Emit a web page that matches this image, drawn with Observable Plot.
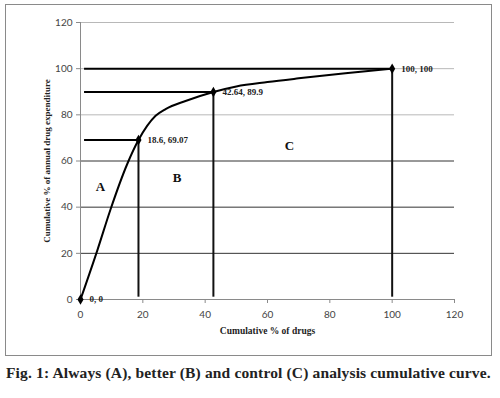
<!DOCTYPE html>
<html>
<head>
<meta charset="utf-8">
<script src="https://cdn.jsdelivr.net/npm/d3@7"></script>
<script src="https://cdn.jsdelivr.net/npm/@observablehq/plot@0.6"></script>
<style>
  html, body { margin: 0; padding: 0; background: #fff; }
  #frame { position: absolute; left: 5px; top: 4px; width: 485px; height: 350px; border: 1px solid #8a8a8a; }
  #frame svg { display: block; }
  #caption { position: absolute; left: 6px; top: 364px; font-family: "Liberation Serif", serif; font-weight: bold; font-size: 15.5px; letter-spacing: 0.15px; color: #222; white-space: nowrap; }
</style>
</head>
<body>
<div id="frame"></div>
<div id="caption">Fig. 1: Always (A), better (B) and control (C) analysis cumulative curve.</div>
<script>
const xTicks = [0, 20, 40, 60, 80, 100, 120];
const yTicks = [0, 20, 40, 60, 80, 100, 120];
const lightGrid = [80, 100, 120];
const darkGrid = [20, 40, 60];

// cumulative curve
const curveX = [0, 5.4, 9.6, 15, 18.6, 24.1, 27.3, 33.7, 42.64, 50, 60, 70, 85, 100];
const curveY = [0, 21.3, 38.9, 58.7, 69.07, 79.6, 82.5, 86, 89.9, 92.3, 94.2, 95.8, 98.0, 100];

// key (cut-off) points
const keyX = [0, 18.6, 42.64, 100];
const keyY = [0, 69.07, 89.9, 100];
const keyLabels = ["0, 0", "18.6, 69.07", "42.64, 89.9", "100, 100"];

// zone letters
const zoneNames = ["A", "B", "C"];
const zoneX = [6.4, 31, 67];
const zoneY = [49, 52.6, 66.6];

const dropStart = 1.3;
const dropEnd = 1;

const curve = curveX.map((x, i) => ({x, y: curveY[i]}));
const keys = keyX.map((x, i) => ({x, y: keyY[i], label: keyLabels[i]}));
const cut = keys.slice(1);
const zones = zoneNames.map((n, i) => ({n, x: zoneX[i], y: zoneY[i]}));

const serif = "'Liberation Serif', 'Times New Roman', serif";
const sans = "Lato, 'Liberation Sans', sans-serif";

const chart = Plot.plot({
  width: 485,
  height: 350,
  marginLeft: 74,
  marginRight: 37,
  marginTop: 17,
  marginBottom: 56,
  x: {domain: [0, 120]},
  y: {domain: [0, 120]},
  style: {fontFamily: sans, background: "#fff"},
  marks: [
    Plot.ruleY(lightGrid, {stroke: "#b8b8b8", strokeWidth: 1}),
    Plot.ruleY(darkGrid, {stroke: "#333", strokeWidth: 1}),
    Plot.ruleY([0], {stroke: "#8a8a8a"}),
    Plot.ruleX([0], {stroke: "#8a8a8a"}),
    Plot.axisX({ticks: xTicks, tickSize: 4, tickPadding: 7, stroke: "#8a8a8a", fill: "#444", fontSize: 10, label: null}),
    Plot.axisY({ticks: yTicks, tickSize: 4, tickPadding: 4, stroke: "#8a8a8a", fill: "#444", fontSize: 10, label: null}),
    Plot.ruleY(cut, {y: "y", x1: dropStart, x2: "x", stroke: "#000", strokeWidth: 2}),
    Plot.ruleX(cut, {x: "x", y1: "y", y2: dropEnd, stroke: "#111", strokeWidth: 2}),
    Plot.line(curve, {x: "x", y: "y", curve: "monotone-x", stroke: "#000", strokeWidth: 2}),
    Plot.dot(keys, {x: "x", y: "y", symbol: "diamond", r: 3.2, fill: "#000"}),
    Plot.text(keys, {x: "x", y: "y", text: "label", dx: 9, textAnchor: "start", fontFamily: serif, fontWeight: "bold", fontSize: 9, fill: "#222"}),
    Plot.text(zones, {x: "x", y: "y", text: "n", fontFamily: serif, fontWeight: "bold", fontSize: 13, fill: "#111"}),
    Plot.text(["Cumulative % of annual drug expenditure"], {frameAnchor: "left", textAnchor: "middle", rotate: -90, dx: -33, fontFamily: serif, fontWeight: "bold", fontSize: 9, fill: "#222"}),
    Plot.text(["Cumulative % of drugs"], {frameAnchor: "bottom", textAnchor: "middle", dy: 34, fontFamily: serif, fontWeight: "bold", fontSize: 9.5, fill: "#222"})
  ]
});
document.getElementById("frame").appendChild(chart);
</script>
</body>
</html>
